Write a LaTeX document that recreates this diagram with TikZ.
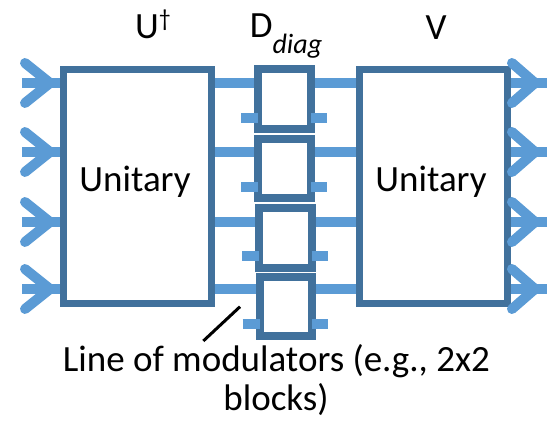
\documentclass[tikz,border=0pt]{standalone}
\usepackage{fontspec}
\setmainfont{Carlito}
\definecolor{lineblue}{HTML}{5B9BD5}
\definecolor{boxblue}{HTML}{41719C}
\begin{document}
\begin{tikzpicture}[x=1pt,y=-1pt,
  unitbox/.style={draw=boxblue, line width=7pt, fill=white, minimum width=148pt, minimum height=234pt, inner sep=0pt},
  modbox/.style={draw=boxblue, line width=8pt, fill=white, minimum width=52.5pt, minimum height=59.5pt, inner sep=0pt},
  wire/.style={draw=lineblue, line width=10pt},
  chev/.style={draw=lineblue, line width=10pt, line cap=round, line join=round},
  lbl/.style={font=\fontsize{37}{42}\selectfont, inner sep=0pt, anchor=base},
  pointer/.style={draw=black, line width=3pt}]
\useasboundingbox (0,0) rectangle (547,422);

% boxes
\node[unitbox] (uL) at (137.5,186.5) {};
\node[unitbox] (vR) at (433.5,186.5) {};
\node[modbox] (m1) at (284.5,98.8) {};
\node[modbox] (m2) at (284.5,168.3) {};
\node[modbox] (m3) at (285.3,237.8) {};
\node[modbox] (m4) at (285.8,306.3) {};

% box texts
\node[lbl] (uLt) at (135,191.7) {Unitary};
\node[lbl] (vRt) at (431,191.7) {Unitary};

% row coordinates
\coordinate (r1) at (22,83);
\coordinate (r2) at (22,152);
\coordinate (r3) at (22,222);
\coordinate (r4) at (22,289);
\coordinate (o1) at (547,83);
\coordinate (o2) at (547,152);
\coordinate (o3) at (547,222);
\coordinate (o4) at (547,289);

% inputs with chevrons
\foreach \r in {r1,r2,r3,r4}{
  \draw[wire] (\r) -- (uL.west |- \r);
  \draw[chev] ([shift={(3,-20)}]\r) -- ([shift={(28,0)}]\r) -- ([shift={(3,20)}]\r);
}
% outputs with chevrons
\foreach \o in {o1,o2,o3,o4}{
  \draw[wire] (vR.east |- \o) -- (\o);
  \draw[chev] ([shift={(-35,-20)}]\o) -- ([shift={(-12,0)}]\o) -- ([shift={(-35,20)}]\o);
}

% wires through modulators
\foreach \m/\r in {m1/r1,m2/r2,m3/r3,m4/r4}{
  \draw[wire] (uL.east |- \r) -- (\m.west |- \r);
  \draw[wire] (\m.east |- \r) -- (vR.west |- \r);
}

% stubs
\coordinate (s1) at (0,117.7);
\coordinate (s2) at (0,186.7);
\coordinate (s3) at (0,256);
\coordinate (s4) at (0,324);
\foreach \m/\s in {m1/s1,m2/s2,m3/s3,m4/s4}{
  \draw[wire] ([xshift=-13pt]\m.west |- \s) -- ([xshift=4pt]\m.west |- \s);
  \draw[wire] ([xshift=-4pt]\m.east |- \s) -- ([xshift=12pt]\m.east |- \s);
}

% top labels
\node[lbl] (lU) at (153,39) {U\raisebox{12pt}{\fontsize{24}{24}\selectfont †}};
\node[lbl] (lD) at (286,38) {D\raisebox{-16pt}{\fontsize{28}{28}\selectfont\itshape diag}};
\node[lbl] (lV) at (436,40) {V};

% caption and pointer
\node[lbl] (cap1) at (276.4,372) {Line of modulators (e.g., 2x2};
\node[lbl] (cap2) at (276,411) {blocks)};
\coordinate (pA) at (203.3,341);
\coordinate (pB) at (240,306.7);
\draw[pointer] (pA) -- (pB);
\end{tikzpicture}
\end{document}
